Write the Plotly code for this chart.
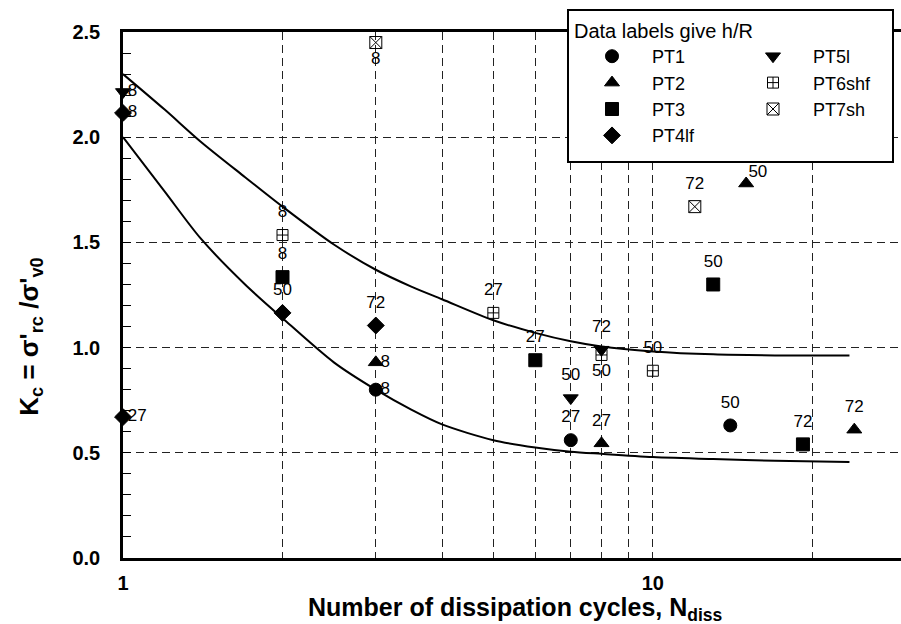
import math
import plotly.graph_objects as go

# ---- data: dissipation cycles N, normalised stress Kc, h/R label ----
pt1_n = [3, 7, 14]
pt1_k = [0.80, 0.56, 0.63]
pt1_h = ["8", "27", "50"]

pt2_n = [3, 8, 15, 24]
pt2_k = [0.93, 0.545, 1.78, 0.61]
pt2_h = ["8", "27", "50", "72"]

pt3_n = [2, 6, 13, 19.2]
pt3_k = [1.335, 0.94, 1.30, 0.54]
pt3_h = ["8", "27", "50", "72"]

pt4_n = [1, 1, 2, 3]
pt4_k = [2.115, 0.67, 1.165, 1.105]
pt4_h = ["8", "27", "50", "72"]

pt5_n = [1, 7, 8]
pt5_k = [2.215, 0.76, 0.99]
pt5_h = ["8", "50", "72"]

pt6_n = [2, 5, 8, 10]
pt6_k = [1.535, 1.165, 0.965, 0.89]
pt6_h = ["8", "27", "50", "50"]

pt7_n = [3, 12]
pt7_k = [2.45, 1.67]
pt7_h = ["8", "72"]

# bounding curves (upper and lower envelopes)
upper_n = [1, 1.2, 1.4, 1.7, 2, 2.5, 3, 3.5, 4, 5, 6, 7, 8, 10, 13, 17, 23.5]
upper_k = [2.30, 2.13, 1.98, 1.81, 1.67, 1.49, 1.37, 1.29, 1.23, 1.13, 1.07, 1.03, 1.005,
           0.982, 0.968, 0.963, 0.962]
lower_n = [1, 1.2, 1.4, 1.7, 2, 2.5, 3, 3.5, 4, 5, 6, 7, 8, 10, 13, 17, 23.5]
lower_k = [2.0, 1.74, 1.52, 1.30, 1.14, 0.93, 0.80, 0.705, 0.635, 0.56, 0.525, 0.505,
           0.495, 0.48, 0.47, 0.462, 0.456]

y_ticks = [0.0, 0.5, 1.0, 1.5, 2.0, 2.5]
x_ticks = [1, 10]
x_grid = [2, 3, 4, 5, 6, 7, 8, 9, 20]

FONT = "Arial, Liberation Sans, sans-serif"

fig = go.Figure()

for n, k in ((upper_n, upper_k), (lower_n, lower_k)):
    fig.add_trace(go.Scatter(
        x=n, y=k, mode="lines", showlegend=False, hoverinfo="skip",
        line=dict(color="black", width=2, shape="spline", smoothing=0.8),
    ))

series = [
    # name, n, k, labels, symbol, size, label positions, legend, rank
    ("PT1", pt1_n, pt1_k, pt1_h, "circle", 13,
     ["middle right", "top center", "top center"], "legend", 1),
    ("PT2", pt2_n, pt2_k, pt2_h, "triangle-up", 13,
     ["middle right", "top center", "top right", "top center"], "legend", 2),
    ("PT3", pt3_n, pt3_k, pt3_h, "square", 13,
     ["top center"] * 4, "legend", 3),
    ("PT4lf", pt4_n, pt4_k, pt4_h, "diamond", 13,
     ["middle right", "middle right", "top center", "top center"], "legend", 4),
    ("PT6shf", pt6_n, pt6_k, pt6_h, "square-cross-open", 11,
     ["top center", "top center", "bottom center", "top center"], "legend2", 6),
    ("PT5l", pt5_n, pt5_k, pt5_h, "triangle-down", 13,
     ["middle right", "top center", "top center"], "legend2", 5),
    ("PT7sh", pt7_n, pt7_k, pt7_h, "square-x-open", 12,
     ["bottom center", "top center"], "legend2", 7),
]


def label_gap(position):
    # invisible marker size that sets how far a label sits from its point
    if position == "top center":
        return 20
    if position == "bottom center":
        return 12
    if position == "top right":
        return 2
    return 6


for name, n, k, lab, sym, size, pos, leg, rank in series:
    fig.add_trace(go.Scatter(
        x=n, y=k, mode="markers", name=name, legend=leg, legendrank=rank,
        cliponaxis=False,
        marker=dict(symbol=sym, size=size, color="black",
                    line=dict(color="black", width=1)),
    ))
    fig.add_trace(go.Scatter(
        x=n, y=k, mode="markers+text", text=lab, textposition=pos,
        showlegend=False, cliponaxis=False, hoverinfo="skip",
        marker=dict(size=[label_gap(p) for p in pos], opacity=0),
        textfont=dict(family=FONT, size=17, color="black"),
    ))

# legend frame
fig.add_shape(type="rect", xref="paper", yref="paper",
              x0=(568 - 123) / 778, x1=(893 - 123) / 778,
              y0=(558 - 162) / 526, y1=(558 - 10) / 526,
              line=dict(color="black", width=2), fillcolor="white", layer="above")

fig.add_annotation(
    xref="paper", yref="paper", x=-0.12, y=0.42, textangle=-90,
    text="<b>K<sub>c</sub> = σ'<sub>rc</sub> /σ'<sub>v0</sub></b>",
    showarrow=False, font=dict(family=FONT, size=26, color="black"),
    xanchor="center", yanchor="middle",
)
fig.add_annotation(
    xref="paper", yref="paper", x=0.505, y=-0.062,
    text="<b>Number of dissipation cycles, N<sub>diss</sub></b>",
    showarrow=False, font=dict(family=FONT, size=25, color="black"),
    xanchor="center", yanchor="top",
)

legend_top = (558 - 12) / 526

fig.update_layout(
    width=901, height=624,
    margin=dict(l=123, r=0, t=32, b=66),
    paper_bgcolor="white", plot_bgcolor="white",
    font=dict(family=FONT, color="black"),
    legend=dict(
        title=dict(text="Data labels give h/R", font=dict(size=20)),
        x=(572 - 123) / 778, y=legend_top, xanchor="left", yanchor="top",
        bgcolor="rgba(0,0,0,0)", borderwidth=0, itemwidth=70,
        font=dict(family=FONT, size=18, color="black"),
    ),
    legend2=dict(
        title=dict(text="\u00a0", font=dict(size=20)),
        x=(733 - 123) / 778, y=legend_top, xanchor="left", yanchor="top",
        bgcolor="rgba(0,0,0,0)", borderwidth=0, itemwidth=70,
        font=dict(family=FONT, size=18, color="black"),
    ),
    xaxis=dict(
        type="log", range=[0, math.log10(29.4)],
        tickvals=x_ticks, ticktext=[str(v) for v in x_ticks],
        tickfont=dict(family=FONT, size=20, color="black", weight="bold"),
        ticks="", ticklabelstandoff=5,
        showline=True, linecolor="black", linewidth=2.5, mirror=True,
        showgrid=True, gridcolor="#222", gridwidth=1, griddash="8px,5px",
        zeroline=False,
        minor=dict(tickvals=x_grid, showgrid=True, gridcolor="#222",
                   gridwidth=1, griddash="8px,5px", ticks=""),
    ),
    yaxis=dict(
        range=[0, 2.5], tickvals=y_ticks,
        ticktext=[f"{v:.1f}" for v in y_ticks],
        tickfont=dict(family=FONT, size=20, color="black", weight="bold"),
        ticks="inside", ticklen=8, tickcolor="black", ticklabelstandoff=16,
        showline=True, linecolor="black", linewidth=2.5,
        showgrid=True, gridcolor="#222", gridwidth=1, griddash="8px,5px",
        zeroline=False,
        minor=dict(dtick=0.1, ticks="inside", ticklen=8, tickcolor="black",
                   showgrid=False),
    ),
)

fig.write_html("out.html")
